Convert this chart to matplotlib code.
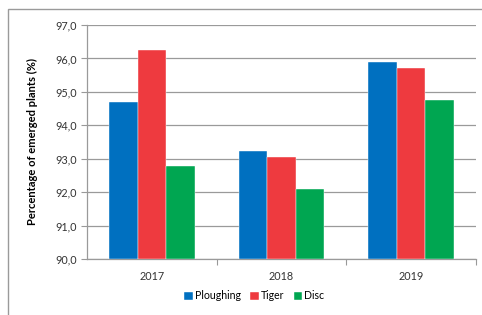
import matplotlib
matplotlib.use('Agg')
import matplotlib.pyplot as plt
import numpy as np
from matplotlib.patches import Rectangle

# data
years = ['2017', '2018', '2019']
ploughing = [94.70, 93.24, 95.88]
tiger = [96.26, 93.05, 95.70]
disc = [92.78, 92.09, 94.76]

series = [('Ploughing', ploughing, '#0070C0'),
          ('Tiger', tiger, '#EE3A3F'),
          ('Disc', disc, '#00A651')]

plt.rcParams['font.family'] = ['Lato', 'DejaVu Sans']

fig = plt.figure(figsize=(4.82, 3.15), dpi=100)
ax = fig.add_axes([0.1805, 0.178, 0.807, 0.7425])

# outer frame around the chart
fig.patches.append(Rectangle((8 / 482, -0.1), 1.2, 1 - 9 / 315 + 0.1,
                             transform=fig.transFigure, fill=False,
                             edgecolor='#9a9a9a', linewidth=1.0))

x = np.arange(len(years))
w = 0.221
for i, (name, vals, col) in enumerate(series):
    ax.bar(x + (i - 1) * w, [v - 90 for v in vals], w, bottom=90, color=col,
           label=name, zorder=3, edgecolor='white', linewidth=0.3)

ax.set_ylim(90, 97)
ax.set_xlim(-0.5, 2.5)
ax.set_yticks(np.arange(90, 97.5, 1))
ax.set_yticklabels([f'{v:.1f}'.replace('.', ',') for v in np.arange(90, 97.5, 1)])
ax.set_xticks(x)
ax.set_xticklabels(years)
ax.set_xticks([0.5, 1.5, 2.5], minor=True)
ax.tick_params(axis='x', which='major', length=0, labelsize=7.8, pad=9, colors='#333333')
ax.tick_params(axis='x', which='minor', length=4, color='#999999', width=0.8)
ax.tick_params(axis='y', length=4, color='#999999', width=0.8, labelsize=7.8)
for t in ax.get_yticklabels():
    t.set_color('#333333')

ax.grid(axis='y', color='#9a9a9a', linewidth=0.9, zorder=0)
for s in ['top', 'right']:
    ax.spines[s].set_visible(False)
for s in ['left', 'bottom']:
    ax.spines[s].set_color('#9a9a9a')
    ax.spines[s].set_linewidth(0.9)

ax.set_ylabel('Percentage of emerged plants (%)', fontsize=8, fontweight='bold',
              labelpad=12)

ax.legend(loc='center', bbox_to_anchor=(0.43, -0.158), ncol=3, frameon=False,
          fontsize=7.6, handlelength=0.8, handleheight=0.8, handletextpad=0.2,
          columnspacing=0.9)

fig.savefig('out.png', dpi=100)
